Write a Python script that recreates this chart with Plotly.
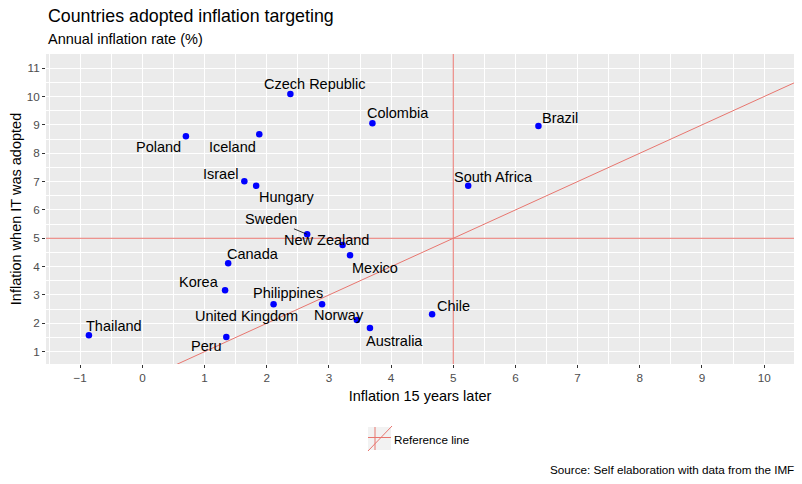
import plotly.graph_objects as go

# ---------------- data ----------------
countries = ["Czech Republic", "Colombia", "Brazil", "Poland", "Iceland", "Israel",
             "Hungary", "South Africa", "Sweden", "New Zealand", "Mexico", "Canada",
             "Korea", "Philippines", "United Kingdom", "Norway", "Chile", "Thailand",
             "Australia", "Peru"]
inflation_later = [2.38, 3.70, 6.37, 0.70, 1.88, 1.64, 1.83, 5.24, 2.65, 3.22, 3.34, 1.38,
                   1.33, 2.89, 2.11, 3.45, 4.66, -0.86, 3.66, 1.35]
inflation_adopted = [10.09, 9.06, 8.96, 8.60, 8.67, 7.01, 6.85, 6.85, 5.14, 4.76, 4.40, 4.12,
                     3.17, 2.67, 2.67, 2.12, 2.32, 1.58, 1.84, 1.52]
x_ticks = list(range(-1, 11))
y_ticks = list(range(1, 12))
threshold = 5

# label offsets (pixels, dx right, dy down) mimicking repelled labels
label_dx = [25, 26, 22, -27, -27, -24, 31, 25, -36, -16, 25, 25, -26, -34, -27, -18, 21, 25, 25, -20]
label_dy = [-10, -10, -8, 11, 13, -7, 11, -9, -15, -5, 13, -9, -8, -11, 12, -5, -8, -9, 13, 9]

XR = [-1.55, 10.48]
YR = [0.566, 11.5]
FONT = "Arial, Liberation Sans, sans-serif"
LINE_COL = "#E8766F"

# panel in pixels
PL, PR, PT, PB = 46, 794, 54, 364


def px_x(p):
    return (p - PL) / (PR - PL)


def px_y(p):
    return (PB - p) / (PB - PT)


fig = go.Figure()

# diagonal reference line y = x
fig.add_trace(go.Scatter(x=XR, y=XR, mode="lines",
                         line=dict(color=LINE_COL, width=1), hoverinfo="skip",
                         showlegend=False))

fig.add_trace(go.Scatter(x=inflation_later, y=inflation_adopted, mode="markers",
                         marker=dict(color="#0000FF", size=6.5),
                         text=countries, showlegend=False))

shapes = [
    dict(type="line", xref="x", yref="y domain", x0=threshold, x1=threshold, y0=0, y1=1,
         line=dict(color=LINE_COL, width=1)),
    dict(type="line", xref="x domain", yref="y", x0=0, x1=1, y0=threshold, y1=threshold,
         line=dict(color=LINE_COL, width=1)),
]

annotations = []
for name, xv, yv, dx, dy in zip(countries, inflation_later, inflation_adopted, label_dx, label_dy):
    if name == "Sweden":
        annotations.append(dict(x=xv, y=yv, xref="x", yref="y", text=name, showarrow=True,
                                ax=dx, ay=dy, arrowhead=0, arrowwidth=0.8, arrowcolor="black",
                                standoff=0, font=dict(family=FONT, size=14.5, color="black")))
    else:
        annotations.append(dict(x=xv, y=yv, xref="x", yref="y", text=name, showarrow=False,
                                xshift=dx, yshift=-dy,
                                font=dict(family=FONT, size=14.5, color="black")))

# titles
annotations.append(dict(text="Countries adopted inflation targeting", xref="paper", yref="paper",
                        x=0, y=px_y(16), xanchor="left", yanchor="middle", showarrow=False,
                        font=dict(family=FONT, size=17.8, color="black")))
annotations.append(dict(text="Annual inflation rate (%)", xref="paper", yref="paper",
                        x=0, y=px_y(39), xanchor="left", yanchor="middle", showarrow=False,
                        font=dict(family=FONT, size=14.5, color="black")))
annotations.append(dict(text="Source: Self elaboration with data from the IMF", xref="paper",
                        yref="paper", x=px_x(796), y=px_y(469), xanchor="right", yanchor="middle",
                        showarrow=False, font=dict(family=FONT, size=11.7, color="black")))

# legend (manual key)
kx0, kx1, ky0, ky1 = 368, 391, 427, 450
shapes.append(dict(type="rect", xref="paper", yref="paper", x0=px_x(kx0), x1=px_x(kx1),
                   y0=px_y(ky1), y1=px_y(ky0), fillcolor="#F2F2F2", line=dict(width=0)))
shapes.append(dict(type="line", xref="paper", yref="paper", x0=px_x(375), x1=px_x(375),
                   y0=px_y(ky1), y1=px_y(ky0), line=dict(color=LINE_COL, width=1)))
shapes.append(dict(type="line", xref="paper", yref="paper", x0=px_x(kx0), x1=px_x(kx1),
                   y0=px_y(437.5), y1=px_y(437.5), line=dict(color=LINE_COL, width=1)))
shapes.append(dict(type="line", xref="paper", yref="paper", x0=px_x(kx0), x1=px_x(kx1 + 1),
                   y0=px_y(ky1 + 1), y1=px_y(ky0 - 1), line=dict(color=LINE_COL, width=1)))
annotations.append(dict(text="Reference line", xref="paper", yref="paper", x=px_x(392),
                        y=px_y(439), xanchor="left", yanchor="middle", showarrow=False,
                        font=dict(family=FONT, size=11.7, color="black")))

axis_common = dict(showgrid=True, gridcolor="white", gridwidth=1.1, zeroline=False,
                   ticks="outside", ticklen=3, tickwidth=1, tickcolor="#333333",
                   tickfont=dict(family=FONT, size=11.7, color="#4D4D4D"),
                   showline=False, automargin=False)

fig.update_layout(
    width=802, height=484,
    margin=dict(l=PL, r=802 - PR, t=PT, b=484 - PB),
    paper_bgcolor="white", plot_bgcolor="#EBEBEB",
    showlegend=False,
    shapes=shapes, annotations=annotations,
    xaxis=dict(range=XR, tickmode="array", tickvals=x_ticks,
               minor=dict(dtick=0.5, tick0=0.5, showgrid=True, gridcolor="white", gridwidth=0.5),
               title=dict(text="Inflation 15 years later", standoff=7,
                          font=dict(family=FONT, size=14.5, color="black")),
               **axis_common),
    yaxis=dict(range=YR, tickmode="array", tickvals=y_ticks,
               minor=dict(dtick=0.5, tick0=0.5, showgrid=True, gridcolor="white", gridwidth=0.5),
               title=dict(text="Inflation when IT was adopted", standoff=1,
                          font=dict(family=FONT, size=14.5, color="black")),
               **axis_common),
)

fig.write_html("out.html", config={"displayModeBar": False},
               post_script="document.body.style.margin='0';document.body.style.padding='0';")
